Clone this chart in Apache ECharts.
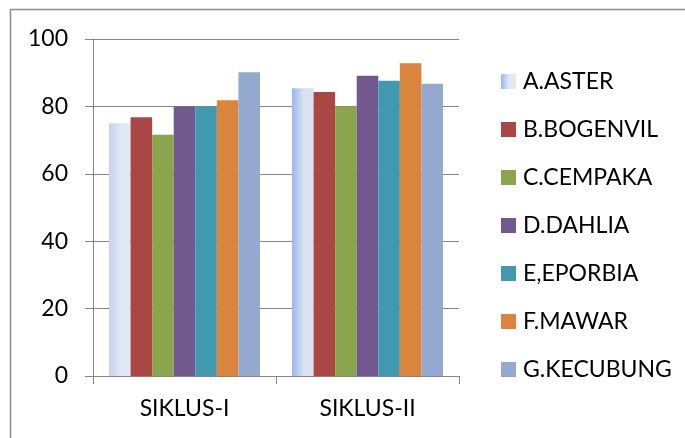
<!DOCTYPE html>
<html>
<head>
<meta charset="utf-8">
<script src="https://cdn.jsdelivr.net/npm/echarts@6/dist/echarts.min.js"></script>
<style>html,body{margin:0;padding:0;background:#fff}#c{width:685px;height:438px}</style>
</head>
<body>
<div id="c"></div>
<script>
const categories = ['SIKLUS-I', 'SIKLUS-II'];
const seriesNames = ['A.ASTER', 'B.BOGENVIL', 'C.CEMPAKA', 'D.DAHLIA', 'E,EPORBIA', 'F.MAWAR', 'G.KECUBUNG'];
const asterValues = [75, 85.4];
const bogenvilValues = [76.8, 84.3];
const cempakaValues = [71.6, 80];
const dahliaValues = [80, 89.1];
const eporbiaValues = [80, 87.6];
const mawarValues = [81.8, 92.8];
const kecubungValues = [90.1, 86.7];
const yTicks = [0, 20, 40, 60, 80, 100];

const allValues = [asterValues, bogenvilValues, cempakaValues, dahliaValues, eporbiaValues, mawarValues, kecubungValues];
const colors = ['#9ab8e8', '#aa4643', '#89a54e', '#71588f', '#4198af', '#db843d', '#93a9cf'];

function grad(c0, c1) {
  return new echarts.graphic.LinearGradient(0, 0, 1, 0, [
    {offset: 0, color: c0}, {offset: 0.55, color: c1}, {offset: 1, color: c1}
  ]);
}
const asterGrads = [grad('#c3d2ee', '#e1e8f5'), grad('#9ab8e8', '#d8e2f3')];

const series = seriesNames.map((name, i) => ({
  name: name,
  type: 'bar',
  barGap: '0%',
  barCategoryGap: '17.5%',
  data: allValues[i].map((v, j) => i === 0 ? {value: v, itemStyle: {color: asterGrads[j]}} : v),
  itemStyle: {color: i === 0 ? grad('#9ab8e8', '#e1e8f5') : colors[i]},
  emphasis: {disabled: true}
}));

const chart = echarts.init(document.getElementById('c'), null, {renderer: 'canvas'});
chart.setOption({
  animation: false,
  backgroundColor: '#fff',
  textStyle: {fontFamily: 'Lato'},
  grid: {left: 93, right: 226, top: 39, bottom: 62, containLabel: false},
  legend: {
    orient: 'vertical',
    left: 501,
    top: 70,
    padding: 0,
    itemWidth: 15,
    itemHeight: 15,
    itemGap: 25,
    icon: 'rect',
    textStyle: {fontFamily: 'Lato', fontSize: 23, color: '#000', padding: [0, 0, 0, 2]},
    data: seriesNames
  },
  xAxis: {
    type: 'category',
    data: categories,
    axisLine: {show: true, lineStyle: {color: '#868686', width: 1}},
    axisTick: {show: true, length: 8, lineStyle: {color: '#868686'}},
    axisLabel: {fontFamily: 'Lato', fontSize: 23, color: '#000', margin: 21},
    splitLine: {show: false}
  },
  yAxis: {
    type: 'value',
    min: yTicks[0],
    max: yTicks[yTicks.length - 1],
    interval: 20,
    axisLine: {show: true, lineStyle: {color: '#868686', width: 1}},
    axisTick: {show: true, length: 8, lineStyle: {color: '#868686'}},
    axisLabel: {fontFamily: 'Lato', fontSize: 23, color: '#000', margin: 25},
    splitLine: {show: true, lineStyle: {color: '#868686', width: 1}}
  },
  graphic: [
    {type: 'polyline', shape: {points: [[10.5, 438], [10.5, 9.5], [685, 9.5]]}, style: {stroke: '#8c8c8c', lineWidth: 1.5, fill: null}, silent: true}
  ],
  series: series
});
</script>
</body>
</html>
